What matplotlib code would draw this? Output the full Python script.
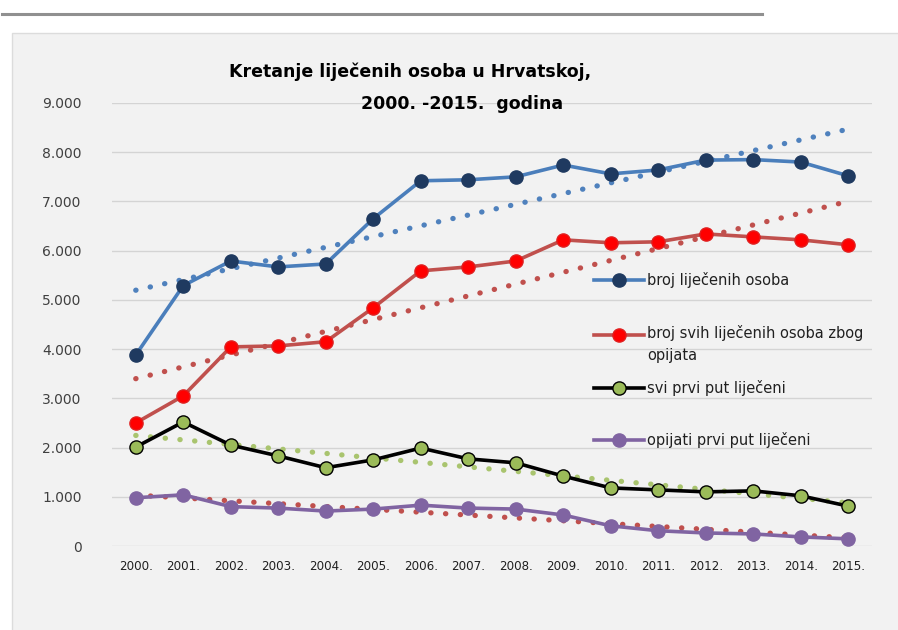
import numpy as np
import matplotlib.pyplot as plt
from matplotlib.patches import Rectangle
from matplotlib.lines import Line2D

# godine i vrijednosti (ocitano s grafa)
godine = ['2000.', '2001.', '2002.', '2003.', '2004.', '2005.', '2006.', '2007.',
          '2008.', '2009.', '2010.', '2011.', '2012.', '2013.', '2014.', '2015.']
lijeceni = [3880, 5290, 5790, 5670, 5730, 6650, 7420, 7440,
            7500, 7740, 7560, 7640, 7840, 7850, 7800, 7520]
opijati_svi = [2500, 3050, 4045, 4065, 4150, 4840, 5590, 5670,
               5790, 6220, 6160, 6180, 6340, 6280, 6220, 6120]
prvi_put = [2010, 2520, 2050, 1830, 1590, 1750, 1990, 1770,
            1690, 1420, 1180, 1140, 1100, 1120, 1020, 810]
opijati_prvi = [980, 1040, 800, 770, 710, 750, 830, 770,
                750, 630, 410, 310, 265, 245, 185, 145]

labels = ['broj liječenih osoba', 'broj svih liječenih osoba zbog\nopijata',
          'svi prvi put liječeni', 'opijati prvi put liječeni']

W, H = 898, 630
fig = plt.figure(figsize=(W / 100, H / 100), dpi=100)
fig.patch.set_facecolor('white')

# siva crta gore i pozadina grafikona
fig.add_artist(Line2D([2 / W, 762 / W], [1 - 14 / H, 1 - 14 / H], color='#909090', lw=2.2))
fig.add_artist(Rectangle((12 / W, -0.01), 1 - 12 / W + 0.01, 1 - 33 / H + 0.01,
                         transform=fig.transFigure, facecolor='#f2f2f2',
                         edgecolor='#dcdcdc', lw=1, zorder=-5))

ax = fig.add_axes([112 / W, 1 - 546 / H, 760 / W, 443 / H])
ax.set_facecolor('none')
x = np.arange(len(godine))

serije = [
    (lijeceni, '#4a7ebb', '#1f3a60', '#1f3a60', '#4f81bd'),
    (opijati_svi, '#c0504d', '#ff0000', '#e02020', '#c0504d'),
    (prvi_put, '#000000', '#9bbb59', '#000000', '#a9c46e'),
    (opijati_prvi, '#8064a2', '#8064a2', '#8064a2', '#c0504d'),
]

# linearni trendovi (kao u Excelu)
for y, lc, mfc, mec, tc in serije:
    k, b = np.polyfit(x, y, 1)
    ax.plot(x, k * x + b, color=tc, lw=3.8, linestyle=(0, (0.05, 2.75)),
            dash_capstyle='round', zorder=2)

for y, lc, mfc, mec, tc in serije:
    ax.plot(x, y, color=lc, lw=2.6, marker='o', ms=9.5, mfc=mfc, mec=mec, mew=1, zorder=3)

ax.set_xlim(-0.5, 15.5)
ax.set_ylim(0, 9000)
ax.set_yticks(range(0, 9001, 1000))
ax.set_yticklabels(['0'] + ['%d.000' % (v // 1000) for v in range(1000, 9001, 1000)],
                   fontsize=10, color='#404040')
ax.set_xticks(x)
ax.set_xticklabels(godine, fontsize=8.6, color='#202020')
ax.tick_params(length=0, pad=10)
ax.tick_params(axis='y', pad=22)
ax.grid(axis='y', color='#d4d4d4', lw=1)
ax.set_axisbelow(True)
for s in ax.spines.values():
    s.set_visible(False)

fig.text(410 / W, 1 - 72 / H, 'Kretanje liječenih osoba u Hrvatskoj,',
         ha='center', va='center', fontsize=12.5, fontweight='bold')
fig.text(462 / W, 1 - 104 / H, '2000. -2015.  godina',
         ha='center', va='center', fontsize=12.5, fontweight='bold')

# legenda
leg_y = [280, 335, 388, 440]
for (y, lc, mfc, mec, tc), ly, lab in zip(serije, leg_y, labels):
    yy = 1 - ly / H
    fig.add_artist(Line2D([594 / W, 644 / W], [yy, yy], color=lc, lw=2.6))
    fig.add_artist(Line2D([619 / W], [yy], marker='o', ms=9.5, mfc=mfc, mec=mec, mew=1))
    if '\n' in lab:
        fig.text(647 / W, 1 - (ly - 10) / H, lab, ha='left', va='top',
                 fontsize=10.5, color='#202020', linespacing=1.6)
    else:
        fig.text(647 / W, yy, lab, ha='left', va='center',
                 fontsize=10.5, color='#202020')

fig.savefig('out.png', dpi=100, facecolor='white')
